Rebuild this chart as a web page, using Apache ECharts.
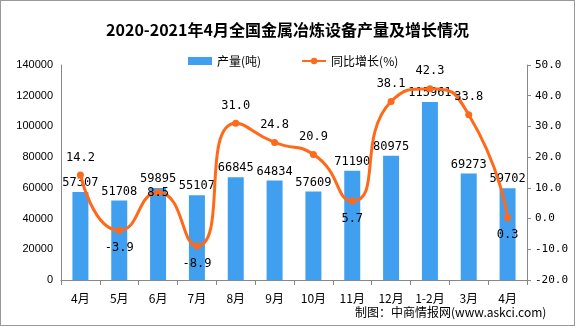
<!DOCTYPE html>
<html><head><meta charset="utf-8">
<script src="https://cdn.jsdelivr.net/npm/echarts@6/dist/echarts.min.js"></script>
<style>
html,body{margin:0;padding:0;background:#fff;}
#wrap{position:absolute;left:0;top:0;width:573px;height:324px;border:1px solid #999;}
#c{width:575px;height:326px;position:absolute;left:0;top:0;}
</style></head>
<body><div id="wrap"></div><div id="c"></div>
<script>
var categories = ['4月','5月','6月','7月','8月','9月','10月','11月','12月','1-2月','3月','4月'];
var production = [57307,51708,59895,55107,66845,64834,57609,71190,80975,115961,69273,59702];
var growth = [14.2,-3.9,8.5,-8.9,31.0,24.8,20.9,5.7,38.1,42.3,33.8,0.3];
var growthLabelPos = ['top','bottom','inside','bottom','top','top','top','bottom','top','top','top','bottom'];
var leftTicks = [0,140000,20000];
var rightTicks = [-20,50,10];

var chart = echarts.init(document.getElementById('c'));
var fontNum = 'DejaVu Sans Mono, monospace';
chart.setOption({
  animation:false,
  title:{text:'2020-2021年4月全国金属冶炼设备产量及增长情况',left:'center',top:17,
    textStyle:{fontFamily:'Noto Sans CJK SC',fontWeight:'bold',fontSize:16,color:'#000'}},
  legend:{top:50,left:183,itemGap:40,itemWidth:24,itemHeight:8,
    textStyle:{fontFamily:'Noto Sans CJK SC',fontSize:12,color:'#000'},
    data:[{name:'产量(吨)',icon:'rect'},{name:'同比增长(%)'}]},
  grid:{left:61,right:48,top:65,bottom:46,containLabel:false},
  xAxis:{type:'category',data:categories,
    axisLine:{lineStyle:{color:'#888'}},
    axisTick:{show:true,alignWithLabel:false,length:5,lineStyle:{color:'#888'}},
    axisLabel:{color:'#000',fontSize:12,margin:12,fontFamily:'Noto Sans CJK SC'}},
  yAxis:[
    {type:'value',min:leftTicks[0],max:leftTicks[1],interval:leftTicks[2],
      axisLine:{show:true,lineStyle:{color:'#888'}},axisTick:{show:false},splitLine:{show:false},
      axisLabel:{color:'#000',fontSize:11,fontFamily:'Liberation Sans',formatter:function(v){return String(v);}}},
    {type:'value',min:rightTicks[0],max:rightTicks[1],interval:rightTicks[2],
      axisLine:{show:true,lineStyle:{color:'#888'}},axisTick:{show:true,length:4,inside:false,lineStyle:{color:'#888'}},splitLine:{show:false},
      axisLabel:{color:'#000',fontSize:11,fontFamily:fontNum,formatter:function(v){return v.toFixed(1);}}}
  ],
  series:[
    {name:'产量(吨)',type:'bar',data:production,barWidth:16,yAxisIndex:0,
      itemStyle:{color:'#419ff0'},
      label:{show:true,position:'top',distance:3,color:'#000',fontSize:12,fontFamily:fontNum}},
    {name:'同比增长(%)',type:'line',yAxisIndex:1,smooth:0.6,
      data:growth.map(function(v,i){return {value:v,label:{position:growthLabelPos[i]}};}),
      symbol:'circle',symbolSize:7,
      lineStyle:{color:'#ff6a1a',width:3},itemStyle:{color:'#ff6a1a'},
      label:{show:true,distance:8,color:'#000',fontSize:12,fontFamily:fontNum,formatter:function(p){return p.value.toFixed(1);}}}
  ],
  graphic:[{type:'text',left:355,top:306,style:{text:'制图：中商情报网(www.askci.com)',fontSize:12,fontFamily:'Noto Sans CJK SC',fill:'#000'}}]
});
</script></body></html>
